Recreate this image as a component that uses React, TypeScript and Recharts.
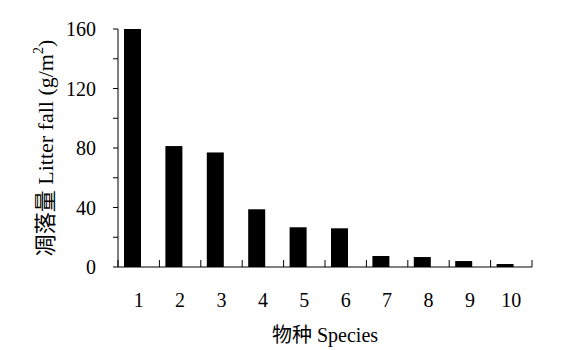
import { BarChart, Bar, XAxis, YAxis } from "recharts";

const species = ["1", "2", "3", "4", "5", "6", "7", "8", "9", "10"];
const litterFall = [162, 81.3, 77, 38.8, 26.7, 26, 7.4, 6.7, 4, 2];
const yTicks = [0, 20, 40, 60, 80, 100, 120, 140, 160];
const yLabels = [0, 40, 80, 120, 160];
const boundaryTicks = [0, 1, 2, 3, 4, 5, 6, 7, 8, 9, 10];

const data = species.map((s, i) => ({ species: s, litter: litterFall[i] }));

const FONT = "Liberation Serif, Noto Sans CJK SC, serif";

function YTick(props: any) {
  const { x, y, payload } = props;
  if (!yLabels.includes(payload.value)) return <g />;
  return (
    <text x={x} y={y} dy="0.355em" textAnchor="end" fontSize={20} fill="#000" style={{ fontFamily: FONT }}>
      {payload.value}
    </text>
  );
}

function YTitle(props: any) {
  const vb = props.viewBox;
  const cx = 53;
  const cy = vb.y + vb.height / 2;
  return (
    <text
      x={cx}
      y={cy}
      transform={`rotate(-90, ${cx}, ${cy})`}
      textAnchor="middle"
      fontSize={22}
      fill="#000"
      style={{ fontFamily: FONT }}
    >
      <tspan>凋落量 Litter fall (g/m</tspan>
      <tspan dy={-10} fontSize={14}>2</tspan>
      <tspan dy={10}>)</tspan>
    </text>
  );
}

// bars sit left of the category centre in the original
function OffsetBar(props: any) {
  const { x, y, width, height, fill } = props;
  return <rect x={x - 6} y={y} width={width} height={height} fill={fill} />;
}

export default function App() {
  return (
    <div>
      <style>{`body{margin:0}`}</style>
      <BarChart
        width={581}
        height={350}
        data={data}
        margin={{ top: 29, right: 49, bottom: 52, left: 0 }}
        style={{ fontFamily: FONT }}
      >
        <XAxis
          xAxisId="bnd"
          type="number"
          dataKey="litter"
          domain={[0, 10]}
          allowDataOverflow
          ticks={boundaryTicks}
          height={1}
          tickSize={-7}
          tick={() => <g />}
          axisLine={{ stroke: "#000" }}
          tickLine={{ stroke: "#000" }}
        />
        <XAxis
          xAxisId="cat"
          dataKey="species"
          height={30}
          interval={0}
          axisLine={false}
          tickLine={false}
          tickSize={0}
          tickMargin={25}
          tick={{ fontSize: 20, fill: "#000", fontFamily: FONT }}
          label={{
            value: "物种 Species",
            position: "bottom",
            offset: 30,
            fontSize: 20,
            fill: "#000",
            fontFamily: FONT,
          }}
        />
        <YAxis
          width={118}
          domain={[0, 160]}
          allowDataOverflow
          ticks={yTicks}
          interval={0}
          tickSize={5}
          tickMargin={17}
          tick={<YTick />}
          axisLine={{ stroke: "#000" }}
          tickLine={{ stroke: "#000" }}
          label={<YTitle />}
        />
        <Bar
          dataKey="litter"
          xAxisId="cat"
          fill="#000"
          barSize={17}
          shape={<OffsetBar />}
          isAnimationActive={false}
        />
      </BarChart>
    </div>
  );
}
